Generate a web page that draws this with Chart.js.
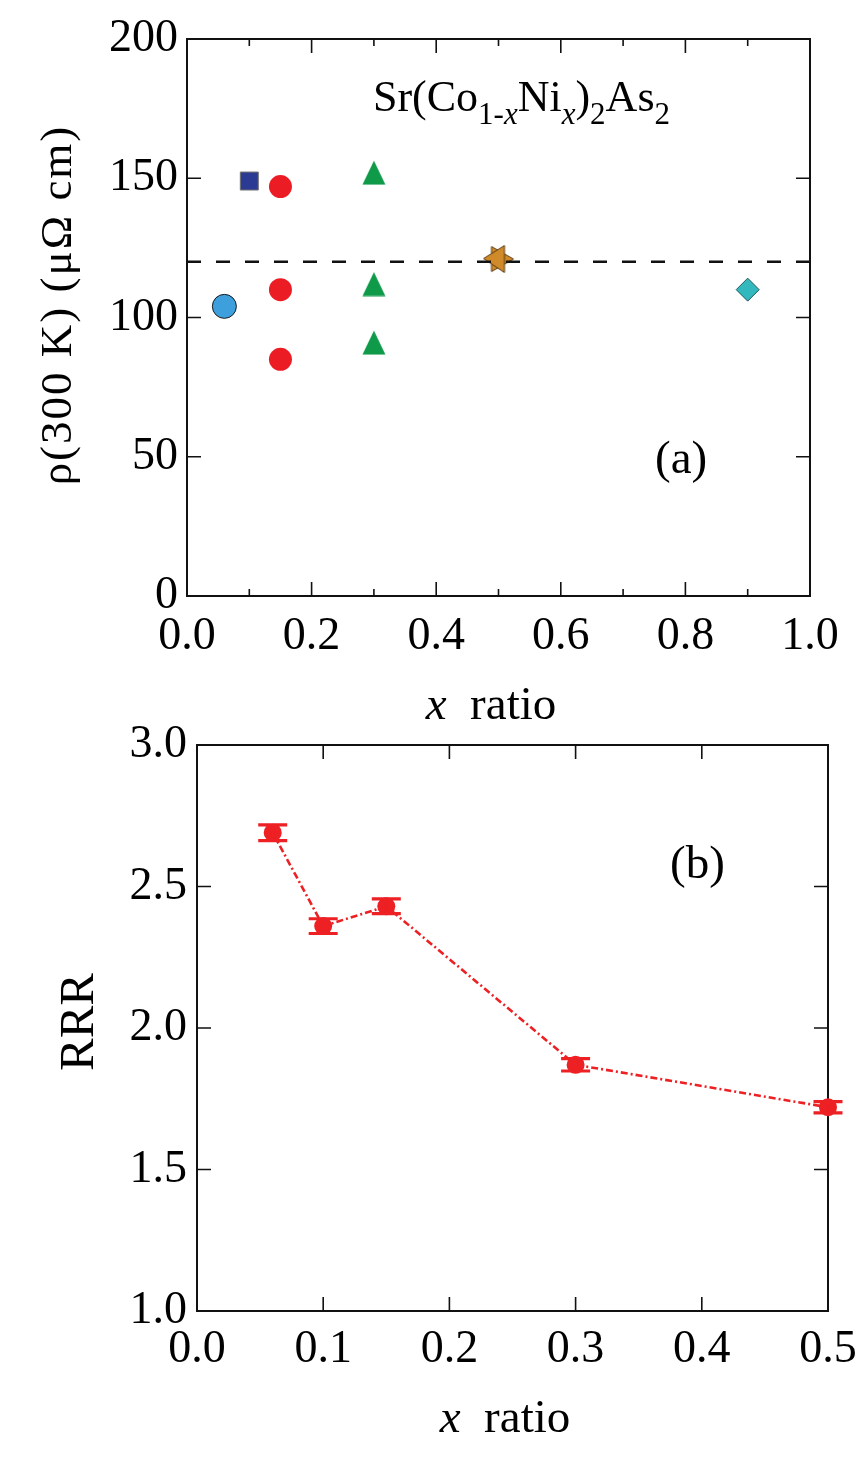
<!DOCTYPE html>
<html>
<head>
<meta charset="utf-8">
<script src="https://cdn.jsdelivr.net/npm/chart.js@4.4.1/dist/chart.umd.min.js"></script>
<style>
  html, body { margin: 0; padding: 0; background: #fff; }
  #wrap { position: relative; width: 868px; height: 1469px; overflow: hidden; }
  canvas { position: absolute; left: 0; }
  #chartA { top: 0; }
  #chartB { top: 690px; }
</style>
</head>
<body>
<div id="wrap">
  <canvas id="chartA" width="868" height="740"></canvas>
  <canvas id="chartB" width="868" height="779"></canvas>
</div>
<script>
// panel (a): rho(300 K) against x
const sqX = [0.10], sqY = [149];
const redX = [0.15, 0.15, 0.15], redY = [147, 110, 85];
const cyanX = [0.06], cyanY = [104];
const triX = [0.30, 0.30, 0.30], triY = [152, 112, 91];
const starX = [0.50], starY = [121];
const diaX = [0.90], diaY = [110];
const refLineY = 120;
const xTicksA = [0.0, 0.1, 0.2, 0.3, 0.4, 0.5, 0.6, 0.7, 0.8, 0.9, 1.0];
const yTicksA = [0, 50, 100, 150, 200];

// panel (b): RRR against x
const rrrX = [0.06, 0.10, 0.15, 0.30, 0.50];
const rrrY = [2.69, 2.36, 2.43, 1.87, 1.72];
const rrrErr = [0.028, 0.026, 0.026, 0.022, 0.020];
const xTicksB = [0.0, 0.1, 0.2, 0.3, 0.4, 0.5];
const yTicksB = [1.0, 1.5, 2.0, 2.5, 3.0];

const SERIF = "'Liberation Serif', 'Times New Roman', serif";
const pts = (xs, ys) => xs.map((x, i) => ({ x: x, y: ys[i] }));

// marker images for shapes chart.js doesn't have
function triMarker() {
  const c = document.createElement('canvas');
  c.width = 24; c.height = 25;
  const g = c.getContext('2d');
  g.beginPath();
  g.moveTo(12, 0.5); g.lineTo(23.5, 24.5); g.lineTo(0.5, 24.5); g.closePath();
  g.fillStyle = '#0f9a4a';
  g.fill();
  return c;
}
function bowMarker() {
  const c = document.createElement('canvas');
  c.width = 32; c.height = 28;
  const g = c.getContext('2d');
  g.fillStyle = '#d08a2a';
  g.strokeStyle = '#5a3b12';
  g.lineWidth = 1;
  g.beginPath();
  g.moveTo(9, 1.5); g.lineTo(31, 14); g.lineTo(9, 26.5); g.closePath();
  g.fill(); g.stroke();
  g.beginPath();
  g.moveTo(1, 13.5); g.lineTo(22, 0.5); g.lineTo(22, 27.5); g.closePath();
  g.fill(); g.stroke();
  return c;
}

// box + inward ticks on all four sides
const frameTicks = {
  id: 'frameTicks',
  beforeDatasetsDraw(chart) {
    const { ctx, chartArea: a, scales } = chart;
    ctx.save();
    ctx.strokeStyle = '#111';
    ctx.lineWidth = 2;
    ctx.strokeRect(a.left, a.top, a.right - a.left, a.bottom - a.top);
    ctx.lineWidth = 1.6;
    ctx.beginPath();
    scales.x.ticks.forEach(t => {
      const px = scales.x.getPixelForValue(t.value);
      if (px <= a.left + 1 || px >= a.right - 1) return;
      const len = t.label === '' ? 7 : 14;
      ctx.moveTo(px, a.bottom); ctx.lineTo(px, a.bottom - len);
      ctx.moveTo(px, a.top); ctx.lineTo(px, a.top + len);
    });
    scales.y.ticks.forEach(t => {
      const py = scales.y.getPixelForValue(t.value);
      if (py <= a.top + 1 || py >= a.bottom - 1) return;
      ctx.moveTo(a.left, py); ctx.lineTo(a.left + 14, py);
      ctx.moveTo(a.right, py); ctx.lineTo(a.right - 14, py);
    });
    ctx.stroke();
    ctx.restore();
  }
};

function drawRich(ctx, x, y, parts) {
  parts.forEach(p => {
    ctx.font = (p.it ? 'italic ' : '') + p.size + 'px ' + SERIF;
    ctx.fillText(p.t, x, y + (p.dy || 0));
    x += ctx.measureText(p.t).width;
  });
}
function richWidth(ctx, parts) {
  let w = 0;
  parts.forEach(p => {
    ctx.font = (p.it ? 'italic ' : '') + p.size + 'px ' + SERIF;
    w += ctx.measureText(p.t).width;
  });
  return w;
}

const textA = {
  id: 'textA',
  afterDraw(chart) {
    const ctx = chart.ctx;
    ctx.save();
    ctx.fillStyle = '#000';
    ctx.textBaseline = 'alphabetic';
    ctx.textAlign = 'left';
    drawRich(ctx, 373, 111, [
      { t: 'Sr(Co', size: 44 }, { t: '1-', size: 31, dy: 13 }, { t: 'x', size: 31, dy: 13, it: true },
      { t: 'Ni', size: 44 }, { t: 'x', size: 31, dy: 13, it: true }, { t: ')', size: 44 },
      { t: '2', size: 31, dy: 13 }, { t: 'As', size: 44 }, { t: '2', size: 31, dy: 13 }
    ]);
    drawRich(ctx, 655, 473, [{ t: '(a)', size: 47 }]);
    const xt = [{ t: 'x', size: 47, it: true }, { t: '  ratio', size: 47 }];
    drawRich(ctx, 491 - richWidth(ctx, xt) / 2, 719, xt);
    ctx.translate(71, 305);
    ctx.rotate(-Math.PI / 2);
    ctx.textAlign = 'center';
    ctx.font = '45px ' + SERIF;
    ctx.letterSpacing = '2px';
    ctx.fillText('ρ(300 K) (μΩ cm)', 0, 0);
    ctx.restore();
  }
};

const textB = {
  id: 'textB',
  afterDraw(chart) {
    const ctx = chart.ctx;
    ctx.save();
    ctx.fillStyle = '#000';
    ctx.textBaseline = 'alphabetic';
    ctx.textAlign = 'left';
    drawRich(ctx, 670, 188, [{ t: '(b)', size: 47 }]);
    const xt = [{ t: 'x', size: 47, it: true }, { t: '  ratio', size: 47 }];
    drawRich(ctx, 505 - richWidth(ctx, xt) / 2, 742, xt);
    ctx.translate(93, 332);
    ctx.rotate(-Math.PI / 2);
    ctx.textAlign = 'center';
    ctx.font = '49px ' + SERIF;
    ctx.fillText('RRR', 0, 0);
    ctx.restore();
  }
};

const errorBars = {
  id: 'errorBars',
  afterDatasetsDraw(chart) {
    const { ctx, scales } = chart;
    ctx.save();
    ctx.strokeStyle = '#ed2024';
    ctx.lineWidth = 3.2;
    ctx.beginPath();
    rrrX.forEach((x, i) => {
      const px = scales.x.getPixelForValue(x);
      const hi = scales.y.getPixelForValue(rrrY[i] + rrrErr[i]);
      const lo = scales.y.getPixelForValue(rrrY[i] - rrrErr[i]);
      ctx.moveTo(px, hi); ctx.lineTo(px, lo);
      ctx.moveTo(px - 14.5, hi); ctx.lineTo(px + 14.5, hi);
      ctx.moveTo(px - 14.5, lo); ctx.lineTo(px + 14.5, lo);
    });
    ctx.stroke();
    ctx.restore();
  }
};

const tickFont = { family: SERIF, size: 46 };

new Chart(document.getElementById('chartA'), {
  type: 'scatter',
  data: {
    datasets: [
      { data: [{ x: 0, y: refLineY }, { x: 1, y: refLineY }], showLine: true, borderColor: '#111',
        borderWidth: 2.5, borderDash: [14, 15], pointRadius: 0, order: 0 },
      { data: pts(sqX, sqY), pointStyle: 'rect', pointRadius: 12.7, pointBackgroundColor: '#2b3b93',
        pointBorderColor: '#707070', pointBorderWidth: 1, order: 1 },
      { data: pts(redX, redY), pointStyle: 'circle', pointRadius: 11.5, pointBackgroundColor: '#ec1c24',
        pointBorderWidth: 0, order: 1 },
      { data: pts(cyanX, cyanY), pointStyle: 'circle', pointRadius: 12, pointBackgroundColor: '#3d9fdc',
        pointBorderColor: '#1a1a1a', pointBorderWidth: 1, order: 1 },
      { data: pts(triX, triY), pointStyle: triMarker(), pointRadius: 12, order: 1 },
      { data: pts(starX, starY), pointStyle: bowMarker(), pointRadius: 14, order: 2 },
      { data: pts(diaX, diaY), pointStyle: 'rectRot', pointRadius: 11.5, pointBackgroundColor: '#33b8be',
        pointBorderColor: '#1d5a5e', pointBorderWidth: 1, order: 1 }
    ]
  },
  options: {
    responsive: false,
    animation: false,
    events: [],
    layout: { padding: { left: 0, top: 39, right: 58, bottom: 0 } },
    plugins: { legend: { display: false }, tooltip: { enabled: false } },
    scales: {
      x: {
        type: 'linear', min: 0, max: 1,
        afterFit: s => { s.height = 144; },
        afterBuildTicks: s => { s.ticks = xTicksA.map(v => ({ value: v })); },
        grid: { display: false, drawTicks: false },
        border: { display: false },
        ticks: {
          font: tickFont, color: '#000', padding: 13, autoSkip: false, maxRotation: 0,
          callback: v => (Math.round(v * 10) % 2 === 0 ? v.toFixed(1) : '')
        }
      },
      y: {
        type: 'linear', min: 0, max: 200,
        afterFit: s => { s.width = 187; },
        afterBuildTicks: s => { s.ticks = yTicksA.map(v => ({ value: v })); },
        grid: { display: false, drawTicks: false },
        border: { display: false },
        ticks: { font: tickFont, color: '#000', padding: 9, autoSkip: false }
      }
    }
  },
  plugins: [frameTicks, textA]
});

new Chart(document.getElementById('chartB'), {
  type: 'line',
  data: {
    datasets: [{
      data: pts(rrrX, rrrY),
      borderColor: '#ed2024', borderWidth: 2.6, borderDash: [7, 3, 2, 3],
      pointRadius: 9, pointBackgroundColor: '#ed2024', pointBorderWidth: 0,
      tension: 0, clip: false
    }]
  },
  options: {
    responsive: false,
    animation: false,
    events: [],
    layout: { padding: { left: 0, top: 55, right: 40, bottom: 0 } },
    plugins: { legend: { display: false }, tooltip: { enabled: false } },
    scales: {
      x: {
        type: 'linear', min: 0, max: 0.5,
        afterFit: s => { s.height = 158; },
        afterBuildTicks: s => { s.ticks = xTicksB.map(v => ({ value: v })); },
        grid: { display: false, drawTicks: false },
        border: { display: false },
        ticks: { font: tickFont, color: '#000', padding: 11, autoSkip: false, maxRotation: 0,
          callback: v => v.toFixed(1) }
      },
      y: {
        type: 'linear', min: 1, max: 3,
        afterFit: s => { s.width = 197; },
        afterBuildTicks: s => { s.ticks = yTicksB.map(v => ({ value: v })); },
        grid: { display: false, drawTicks: false },
        border: { display: false },
        ticks: { font: tickFont, color: '#000', padding: 10, autoSkip: false,
          callback: v => v.toFixed(1) }
      }
    }
  },
  plugins: [frameTicks, errorBars, textB]
});
</script>
</body>
</html>
